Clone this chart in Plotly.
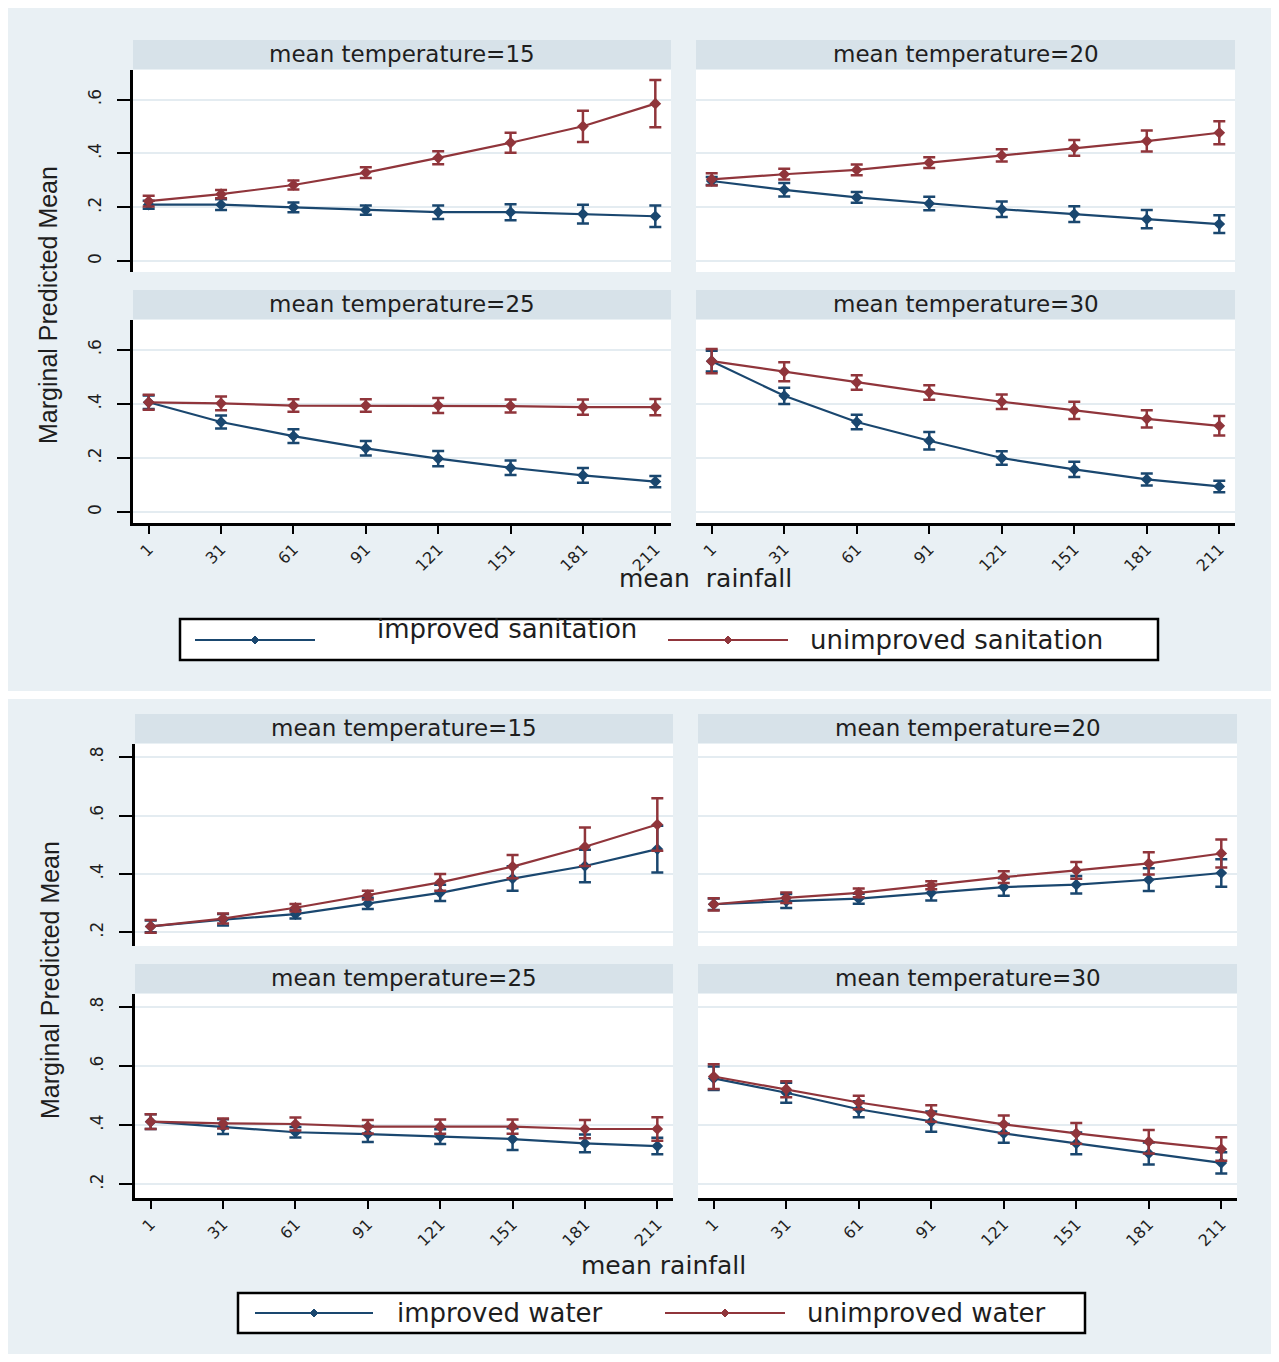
import plotly.graph_objects as go

# ---------------- data ----------------
rain = [1, 31, 61, 91, 121, 151, 181, 211]
rain_ticks = ["1", "31", "61", "91", "121", "151", "181", "211"]
temps = [15, 20, 25, 30]

# top figure: sanitation
san_imp_15 = [0.210, 0.210, 0.200, 0.190, 0.182, 0.182, 0.175, 0.167]
san_imp_15_ci = [0.015, 0.020, 0.018, 0.017, 0.025, 0.030, 0.035, 0.040]
san_unimp_15 = [0.223, 0.249, 0.283, 0.329, 0.384, 0.440, 0.501, 0.585]
san_unimp_15_ci = [0.020, 0.015, 0.017, 0.020, 0.024, 0.037, 0.058, 0.088]

san_imp_20 = [0.298, 0.265, 0.237, 0.214, 0.193, 0.175, 0.156, 0.138]
san_imp_20_ci = [0.015, 0.025, 0.020, 0.025, 0.029, 0.029, 0.034, 0.033]
san_unimp_20 = [0.304, 0.323, 0.339, 0.366, 0.393, 0.421, 0.446, 0.477]
san_unimp_20_ci = [0.023, 0.020, 0.020, 0.020, 0.023, 0.029, 0.039, 0.043]

san_imp_25 = [0.406, 0.333, 0.281, 0.236, 0.198, 0.164, 0.136, 0.113]
san_imp_25_ci = [0.025, 0.024, 0.025, 0.027, 0.028, 0.027, 0.027, 0.021]
san_unimp_25 = [0.406, 0.402, 0.394, 0.394, 0.394, 0.392, 0.388, 0.388]
san_unimp_25_ci = [0.028, 0.025, 0.023, 0.023, 0.028, 0.024, 0.028, 0.030]

san_imp_30 = [0.558, 0.430, 0.333, 0.264, 0.200, 0.158, 0.121, 0.095]
san_imp_30_ci = [0.038, 0.030, 0.027, 0.032, 0.025, 0.028, 0.022, 0.021]
san_unimp_30 = [0.558, 0.519, 0.479, 0.442, 0.408, 0.376, 0.345, 0.319]
san_unimp_30_ci = [0.045, 0.035, 0.027, 0.027, 0.027, 0.032, 0.032, 0.036]

# bottom figure: water
wat_imp_15 = [0.220, 0.243, 0.262, 0.299, 0.335, 0.384, 0.427, 0.485]
wat_imp_15_ci = [0.020, 0.020, 0.015, 0.019, 0.028, 0.042, 0.056, 0.080]
wat_unimp_15 = [0.220, 0.247, 0.284, 0.327, 0.371, 0.425, 0.493, 0.569]
wat_unimp_15_ci = [0.022, 0.017, 0.013, 0.015, 0.029, 0.040, 0.066, 0.090]

wat_imp_20 = [0.296, 0.307, 0.315, 0.335, 0.355, 0.363, 0.380, 0.403]
wat_imp_20_ci = [0.020, 0.024, 0.017, 0.026, 0.030, 0.030, 0.039, 0.047]
wat_unimp_20 = [0.296, 0.318, 0.335, 0.361, 0.389, 0.412, 0.436, 0.470]
wat_unimp_20_ci = [0.021, 0.018, 0.015, 0.014, 0.020, 0.029, 0.038, 0.048]

wat_imp_25 = [0.412, 0.395, 0.376, 0.370, 0.361, 0.353, 0.338, 0.329]
wat_imp_25_ci = [0.025, 0.025, 0.018, 0.027, 0.025, 0.037, 0.030, 0.028]
wat_unimp_25 = [0.412, 0.406, 0.404, 0.395, 0.395, 0.395, 0.387, 0.387]
wat_unimp_25_ci = [0.025, 0.017, 0.022, 0.023, 0.024, 0.024, 0.031, 0.040]

wat_imp_30 = [0.559, 0.510, 0.454, 0.412, 0.372, 0.338, 0.304, 0.272]
wat_imp_30_ci = [0.040, 0.034, 0.027, 0.034, 0.032, 0.037, 0.037, 0.036]
wat_unimp_30 = [0.565, 0.522, 0.477, 0.440, 0.403, 0.372, 0.344, 0.319]
wat_unimp_30_ci = [0.042, 0.027, 0.023, 0.028, 0.030, 0.035, 0.040, 0.040]

san_yticks = [0, 0.2, 0.4, 0.6]
san_yticktext = ["0", ".2", ".4", ".6"]
wat_yticks = [0.2, 0.4, 0.6, 0.8]
wat_yticktext = [".2", ".4", ".6", ".8"]

# ---------------- styling ----------------
OFF = 8                      # browser body margin
W, H = 1279 - 2 * OFF, 1362 - 2 * OFF
NAVY = "#1A476F"
MAROON = "#90353B"
FIG_BG = "#E9F0F4"
STRIP_BG = "#D7E2E9"
GRID = "#E4ECF1"
FONT = "DejaVu Sans"
TXT = "#1e1e1e"


def px(x):
    return (x - OFF) / W


def py(y):
    return 1 - (y - OFF) / H


fig = go.Figure()
shapes = []
annotations = []

# figure backgrounds
for (y0, y1) in [(8, 691), (699, 1354)]:
    shapes.append(dict(type="rect", xref="paper", yref="paper", layer="below",
                       x0=px(8), x1=px(1271), y0=py(y1), y1=py(y0),
                       fillcolor=FIG_BG, line=dict(width=0)))

panels = []
top_cols = [(133, 671), (696, 1235)]
top_rows = [(70, 272), (320, 523)]
san_series = [
    (san_imp_15, san_imp_15_ci, san_unimp_15, san_unimp_15_ci),
    (san_imp_20, san_imp_20_ci, san_unimp_20, san_unimp_20_ci),
    (san_imp_25, san_imp_25_ci, san_unimp_25, san_unimp_25_ci),
    (san_imp_30, san_imp_30_ci, san_unimp_30, san_unimp_30_ci),
]
for i in range(4):
    r, c = divmod(i, 2)
    panels.append(dict(cols=top_cols[c], rows=top_rows[r], col=c, row=r,
                       data=san_series[i], temp=temps[i],
                       yr=[-0.04, 0.71], yt=san_yticks, ytt=san_yticktext))
bot_cols = [(135, 673), (698, 1237)]
bot_rows = [(744, 946), (994, 1198)]
wat_series = [
    (wat_imp_15, wat_imp_15_ci, wat_unimp_15, wat_unimp_15_ci),
    (wat_imp_20, wat_imp_20_ci, wat_unimp_20, wat_unimp_20_ci),
    (wat_imp_25, wat_imp_25_ci, wat_unimp_25, wat_unimp_25_ci),
    (wat_imp_30, wat_imp_30_ci, wat_unimp_30, wat_unimp_30_ci),
]
for i in range(4):
    r, c = divmod(i, 2)
    panels.append(dict(cols=bot_cols[c], rows=bot_rows[r], col=c, row=r,
                       data=wat_series[i], temp=temps[i],
                       yr=[0.153, 0.845], yt=wat_yticks, ytt=wat_yticktext))

layout_axes = {}
for k, p in enumerate(panels, start=1):
    x0, x1 = p["cols"]
    y0, y1 = p["rows"]
    shapes.append(dict(type="rect", xref="paper", yref="paper", layer="below",
                       x0=px(x0), x1=px(x1), y0=py(y1), y1=py(y0),
                       fillcolor="white", line=dict(width=0)))
    shapes.append(dict(type="rect", xref="paper", yref="paper", layer="below",
                       x0=px(x0), x1=px(x1), y0=py(y0 - 1), y1=py(y0 - 30),
                       fillcolor=STRIP_BG, line=dict(width=0)))
    annotations.append(dict(xref="paper", yref="paper", x=px((x0 + x1) / 2),
                            y=py(y0 - 16), text=f"mean temperature={p['temp']}",
                            showarrow=False, xanchor="center", yanchor="middle",
                            font=dict(family=FONT, size=23, color=TXT)))
    imp, imp_ci, unimp, unimp_ci = p["data"]
    xa = "x" if k == 1 else f"x{k}"
    ya = "y" if k == 1 else f"y{k}"
    for vals, ci, col in [(imp, imp_ci, NAVY), (unimp, unimp_ci, MAROON)]:
        fig.add_trace(go.Scatter(
            x=rain, y=vals, xaxis=xa, yaxis=ya, mode="lines+markers",
            line=dict(color=col, width=2.2),
            marker=dict(symbol="diamond", size=9, color=col),
            error_y=dict(type="data", array=ci, visible=True, color=col,
                         thickness=2.5, width=6),
            showlegend=False, hoverinfo="x+y"))
    left = p["col"] == 0
    bottom = p["row"] == 1
    xkey = "xaxis" if k == 1 else f"xaxis{k}"
    ykey = "yaxis" if k == 1 else f"yaxis{k}"
    layout_axes[xkey] = dict(
        domain=[px(x0), px(x1)], anchor=ya, range=[-5.5, 217.5],
        tickvals=rain, ticktext=rain_ticks if bottom else [""] * 8,
        showticklabels=bottom, ticks="outside" if bottom else "",
        ticklen=8, tickwidth=2, tickcolor="black",
        showline=bottom, linecolor="black", linewidth=2.5,
        showgrid=False, zeroline=False, tickangle=-45,
        tickfont=dict(family=FONT, size=16, color=TXT), fixedrange=True)
    layout_axes[ykey] = dict(
        domain=[py(y1), py(y0)], anchor=xa, range=p["yr"],
        tickvals=p["yt"], ticktext=p["ytt"],
        showticklabels=left, ticks="outside" if left else "",
        ticklen=13, tickwidth=2, tickcolor="black",
        showline=left, linecolor="black", linewidth=2.5,
        showgrid=True, gridcolor=GRID, gridwidth=2, zeroline=False,
        tickangle=-90, ticklabelstandoff=9,
        tickfont=dict(family=FONT, size=17, color=TXT), fixedrange=True)

# axis titles
annotations += [
    dict(xref="paper", yref="paper", x=px(705), y=py(578), text="mean\u00a0 rainfall",
         showarrow=False, xanchor="center", yanchor="middle",
         font=dict(family=FONT, size=25, color=TXT)),
    dict(xref="paper", yref="paper", x=px(663), y=py(1265), text="mean rainfall",
         showarrow=False, xanchor="center", yanchor="middle",
         font=dict(family=FONT, size=25, color=TXT)),
    dict(xref="paper", yref="paper", x=px(48), y=py(305), text="Marginal Predicted Mean",
         showarrow=False, textangle=-90, xanchor="center", yanchor="middle",
         font=dict(family="Liberation Sans", size=25, color=TXT)),
    dict(xref="paper", yref="paper", x=px(50), y=py(980), text="Marginal Predicted Mean",
         showarrow=False, textangle=-90, xanchor="center", yanchor="middle",
         font=dict(family="Liberation Sans", size=25, color=TXT)),
]

# legends (drawn as boxes, keys and texts)
legends = [
    dict(box=(180, 1158, 619, 660), ly=640,
         items=[(NAVY, 195, 315, "improved sanitation", 375, 629),
                (MAROON, 668, 788, "unimproved sanitation", 808, 640)]),
    dict(box=(238, 1085, 1293, 1333), ly=1313,
         items=[(NAVY, 255, 373, "improved water", 395, 1313),
                (MAROON, 665, 785, "unimproved water", 805, 1313)]),
]
for lg in legends:
    bx0, bx1, by0, by1 = lg["box"]
    shapes.append(dict(type="rect", xref="paper", yref="paper", layer="above",
                       x0=px(bx0), x1=px(bx1), y0=py(by1), y1=py(by0),
                       fillcolor="white", line=dict(color="black", width=2.5)))
    for col, lx0, lx1, label, tx, ty in lg["items"]:
        ly = lg["ly"]
        shapes.append(dict(type="line", xref="paper", yref="paper", layer="above",
                           x0=px(lx0), x1=px(lx1), y0=py(ly), y1=py(ly),
                           line=dict(color=col, width=2)))
        cx = (lx0 + lx1) / 2
        path = (f"M{px(cx)},{py(ly - 4)} L{px(cx + 4)},{py(ly)} "
                f"L{px(cx)},{py(ly + 4)} L{px(cx - 4)},{py(ly)} Z")
        shapes.append(dict(type="path", xref="paper", yref="paper", layer="above",
                           path=path, fillcolor=col, line=dict(color=col, width=1)))
        annotations.append(dict(xref="paper", yref="paper", x=px(tx), y=py(ty),
                                text=label, showarrow=False, xanchor="left",
                                yanchor="middle",
                                font=dict(family=FONT, size=26, color=TXT)))

fig.update_layout(
    width=W, height=H, margin=dict(l=0, r=0, t=0, b=0),
    paper_bgcolor="white", plot_bgcolor="rgba(0,0,0,0)",
    shapes=shapes, annotations=annotations, showlegend=False,
    **layout_axes)

fig.write_html("out.html")
